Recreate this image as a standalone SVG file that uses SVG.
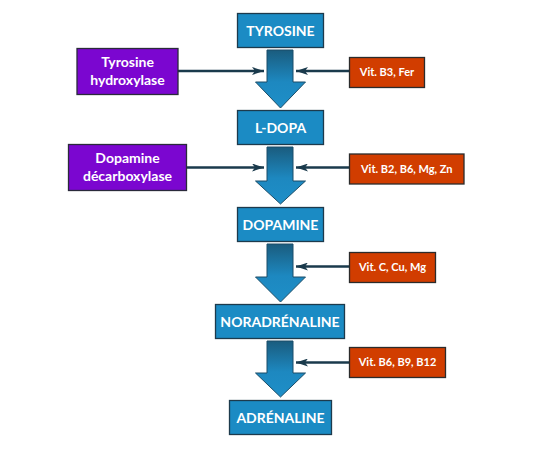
<svg xmlns="http://www.w3.org/2000/svg" width="560" height="450" viewBox="0 0 560 450">
<style>
.blue{fill:#1b8bc4;stroke:#1d3a4c;stroke-width:1.3}
.purple{fill:#7b06d0;stroke:#2a2a3a;stroke-width:1.3}
.orange{fill:#d13d00;stroke:#2b2b2b;stroke-width:1.3}
.big{fill:url(#g);stroke:#1b4d68;stroke-width:1}
.t{font-family:Lato,"Liberation Sans",sans-serif;font-weight:bold;fill:#fff;text-anchor:middle}
.tb{font-size:14px}
.tp{font-size:14px}
.to{font-size:11px}
.c{stroke:#1a3a4c;stroke-width:2.5;fill:none}
</style>
<defs>
<linearGradient id="g" x1="0" y1="0" x2="0" y2="1">
<stop offset="0" stop-color="#1a5c7e"/>
<stop offset="0.55" stop-color="#1d88c0"/>
<stop offset="1" stop-color="#1e8fc8"/>
</linearGradient>
<marker id="ah" viewBox="0 0 12 8" refX="12" refY="4" markerWidth="12" markerHeight="8" markerUnits="userSpaceOnUse" orient="auto">
<path d="M0,0 L12,4 L0,8 L3,4 Z" fill="#1a3a4c"/>
</marker>
</defs>
<rect width="560" height="450" fill="#fff"/>

<g id="flow-arrows">
<path class="big" d="M267,50 H293 V82 H305.5 L280.5,108 L255.5,82 H267 Z"/>
<path class="big" d="M267,147 H293 V181 H305.5 L280.5,204 L255.5,181 H267 Z"/>
<path class="big" d="M267,244 H293 V277 H305.5 L280.5,302 L255.5,277 H267 Z"/>
<path class="big" d="M267,341 H293 V373 H305.5 L280.5,397 L255.5,373 H267 Z"/>
</g>

<g id="connectors">
<line class="c" x1="178" y1="71" x2="264" y2="71" marker-end="url(#ah)"/>
<line class="c" x1="349" y1="71" x2="296" y2="71" marker-end="url(#ah)"/>
<line class="c" x1="187" y1="167.5" x2="264" y2="167.5" marker-end="url(#ah)"/>
<line class="c" x1="349" y1="167.5" x2="296" y2="167.5" marker-end="url(#ah)"/>
<line class="c" x1="349" y1="266.5" x2="296" y2="266.5" marker-end="url(#ah)"/>
<line class="c" x1="349" y1="362.5" x2="296" y2="362.5" marker-end="url(#ah)"/>
</g>

<g id="tyrosine"><rect class="blue" x="237.5" y="13.5" width="86" height="34"/><text class="t tb" x="280.5" y="35.5">TYROSINE</text></g>
<g id="ldopa"><rect class="blue" x="237.5" y="110.5" width="86" height="34"/><text class="t tb" x="280.5" y="132.5">L-DOPA</text></g>
<g id="dopamine"><rect class="blue" x="237.5" y="207.5" width="86" height="34"/><text class="t tb" x="280.5" y="229.5">DOPAMINE</text></g>
<g id="noradrenaline"><rect class="blue" x="215.5" y="304.5" width="129" height="34"/><text class="t tb" x="280" y="326.5">NORADRÉNALINE</text></g>
<g id="adrenaline"><rect class="blue" x="229.5" y="400.5" width="102" height="34"/><text class="t tb" x="280.5" y="422.5">ADRÉNALINE</text></g>

<g id="tyrosine-hydroxylase"><rect class="purple" x="77" y="48.5" width="101" height="46"/><text class="t tp" x="127.5" y="66.5">Tyrosine</text><text class="t tp" x="127.5" y="85">hydroxylase</text></g>
<g id="dopamine-decarboxylase"><rect class="purple" x="68.5" y="144.5" width="118" height="46"/><text class="t tp" x="127.5" y="162.5">Dopamine</text><text class="t tp" x="127.5" y="181">décarboxylase</text></g>

<g id="cof1"><rect class="orange" x="349.5" y="57.5" width="75" height="30"/><text class="t to" x="387" y="76">Vit. B3, Fer</text></g>
<g id="cof2"><rect class="orange" x="349.5" y="154" width="114.5" height="30"/><text class="t to" x="406.75" y="172.5">Vit. B2, B6, Mg, Zn</text></g>
<g id="cof3"><rect class="orange" x="349.5" y="252.5" width="86" height="30"/><text class="t to" x="392.5" y="271">Vit. C, Cu, Mg</text></g>
<g id="cof4"><rect class="orange" x="349.5" y="347.5" width="96" height="30"/><text class="t to" x="397.5" y="366">Vit. B6, B9, B12</text></g>
</svg>
